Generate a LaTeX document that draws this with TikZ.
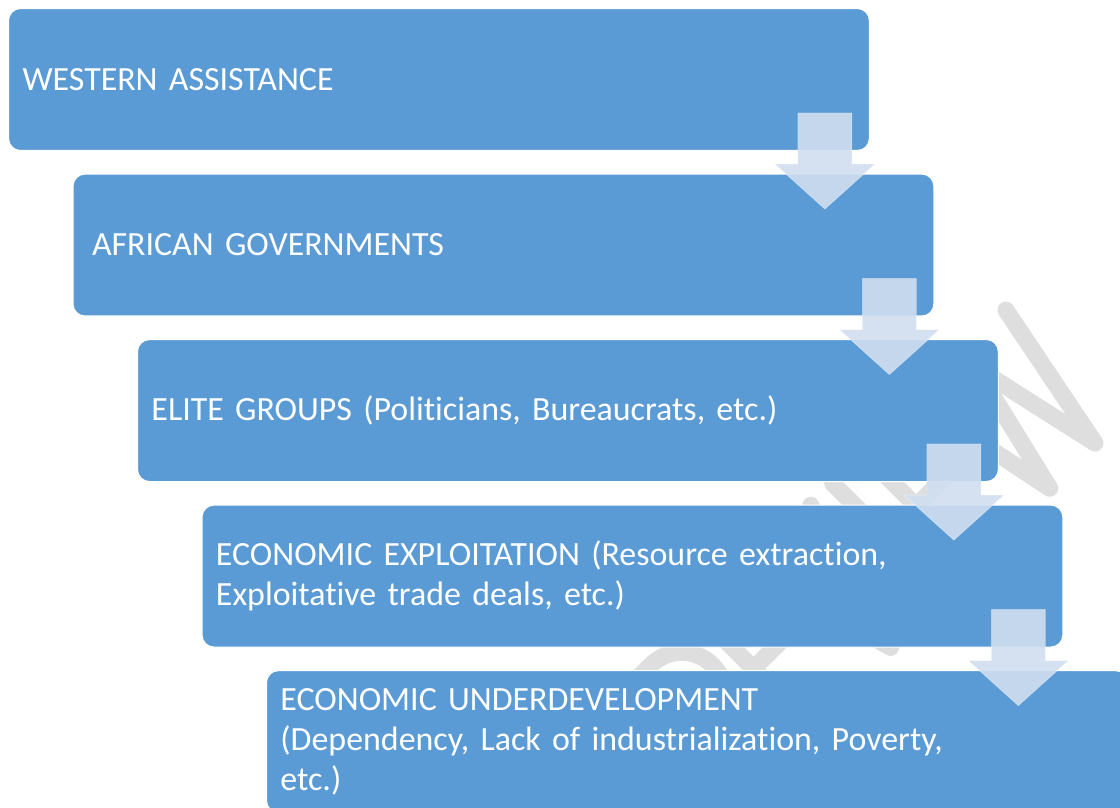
\documentclass[tikz,border=0pt]{standalone}
\usepackage{fontspec}
\setmainfont{Carlito}[Ligatures=NoCommon]
\usetikzlibrary{positioning}
\definecolor{boxblue}{HTML}{5B9BD5}
\definecolor{arrowblue}{HTML}{D0DEF0}
\definecolor{markgray}{HTML}{DEDEDE}
\tikzset{
  stepbox/.style={rectangle, rounded corners=0.24cm, fill=boxblue, draw=white, line width=0.6pt,
    minimum width=17.22cm, minimum height=2.84cm, text width=16.66cm, inner xsep=0.28cm,
    align=left, text=white, font=\fontsize{19.3}{22.7}\selectfont, anchor=north west},
  downarrow/.style={fill=arrowblue, fill opacity=0.9, draw=white, draw opacity=0.4, line width=0.4pt},
  markline/.style={draw=markgray, line width=0.34cm, line cap=round, line join=round}
}
\begin{document}
\begin{tikzpicture}[x=0.02cm, y=-0.02cm]
    \useasboundingbox (0,0) rectangle (1120,808);
    \clip (0,0) rectangle (1120,808);
    % Watermark
    \begin{scope}[shift={(769,769)}, rotate=45, x=0.02cm, y=0.02cm]
        \draw[markline] (-130,0) -- (-130,157) -- (-95,157) arc[start angle=90, end angle=-90, radius=43.5] -- (-130,70);
        \draw[markline] (-45,0) -- (-45,157) -- (-10,157) arc[start angle=90, end angle=-90, radius=43.5] -- (-45,70);
        \draw[markline] (-15,70) -- (20,0);
        \draw[markline] (108,157) -- (60,157) -- (60,0) -- (108,0);
        \draw[markline] (60,82) -- (102,82);
        \draw[markline] (128,157) -- (172,0) -- (216,157);
        \draw[markline] (247,0) -- (247,157);
        \draw[markline] (345,157) -- (290,157) -- (290,0) -- (345,0);
        \draw[markline] (290,82) -- (338,82);
        \draw[markline] (365,157) -- (397,0) -- (430,139) -- (461,0) -- (492,157);
    \end{scope}
    % Steps
    \node[stepbox] (b1) at (8,8) {WESTERN ASSISTANCE};
    \node[stepbox, text width=16.46cm, inner xsep=0.38cm, below=0.45cm of b1.south west, anchor=north west, xshift=1.29cm] (b2) {AFRICAN GOVERNMENTS};
    \node[stepbox, below=0.45cm of b2.south west, anchor=north west, xshift=1.29cm] (b3) {ELITE GROUPS (Politicians, Bureaucrats, etc.)};
    \node[stepbox, below=0.45cm of b3.south west, anchor=north west, xshift=1.29cm] (b4) {ECONOMIC EXPLOITATION (Resource extraction,\\Exploitative trade deals, etc.)};
    \node[stepbox, below=0.45cm of b4.south west, anchor=north west, xshift=1.29cm] (b5) {ECONOMIC UNDERDEVELOPMENT\\(Dependency, Lack of industrialization, Poverty,\\etc.)};
    % Arrows
    \foreach \i in {1,...,4}
        \path[downarrow] (b\i.south east) ++(-72,-38) -- ++(54,0) -- ++(0,51) -- ++(23,0)
            -- ++(-50,45) -- ++(-50,-45) -- ++(23,0) -- cycle;
\end{tikzpicture}
\end{document}
